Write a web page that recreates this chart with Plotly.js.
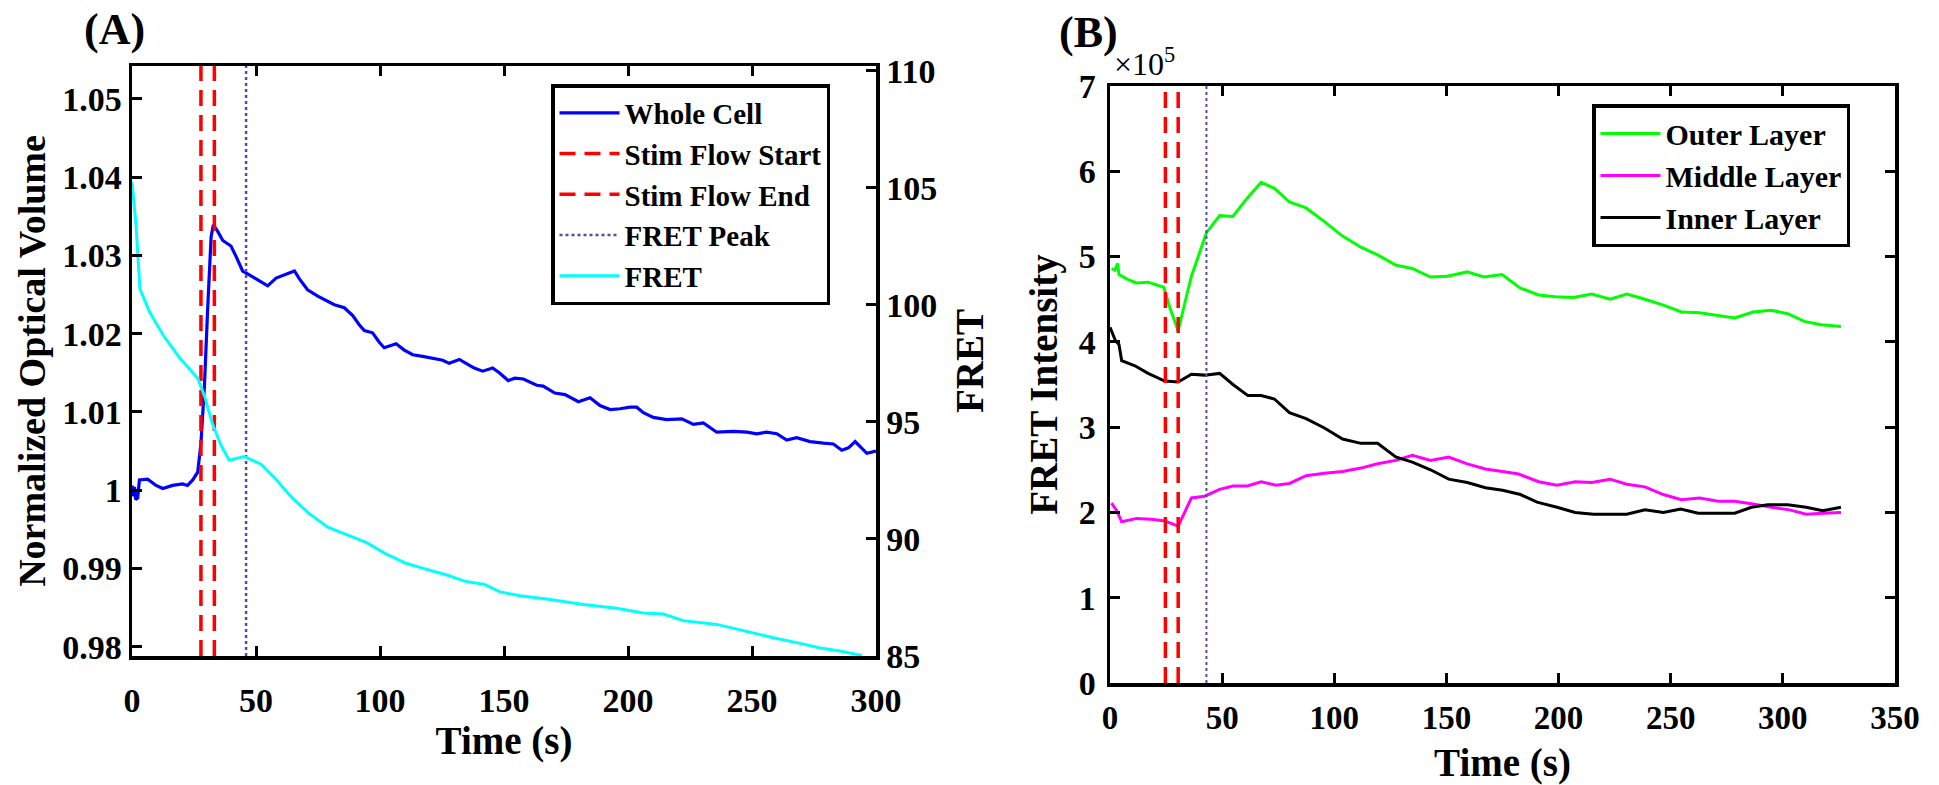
<!DOCTYPE html>
<html>
<head>
<meta charset="utf-8">
<script src="https://cdn.plot.ly/plotly-3.0.1.min.js"></script>
<style>html,body{margin:0;padding:0;background:#fff;}#chart{width:1939px;height:785px;}</style>
</head>
<body>
<div id="chart"></div>
<script>
// ---------- Panel A data ----------
const timeWhole = [0,0.5,1,1.5,2.3,3,6.3,9.7,12.4,16.4,20.4,22.4,24.5,26.5,27.8,29.2,30.5,31.9,32.8,34.5,36.6,39.9,41.9,44.6,47.3,51.3,54.7,58.1,61.4,65.5,67.5,70.8,74.9,78.2,81.6,85.6,89,91.7,93.7,97,99.7,101.7,103.8,106.5,109.8,113.2,117.2,121.2,125.3,127.9,132,134.7,138,141.4,145.4,148.1,151.7,154.4,157.8,163.2,165.8,170.5,174.6,180,184.7,188.7,192.8,196.8,200.8,203.5,206.2,210.2,215.6,221.7,226.4,230.4,235.8,242.5,247.9,251.9,255.9,260,264,268,273.4,278.8,282.8,286.2,288.9,291.6,294.3,296.3,300];
const wholeCell = [1.0006,0.9992,1.0004,0.9988,0.9990,1.0013,1.0014,1.0006,1.0002,1.0006,1.0008,1.0006,1.0013,1.0023,1.0060,1.0133,1.0231,1.0324,1.0339,1.0331,1.0319,1.0312,1.0299,1.0280,1.0275,1.0268,1.0261,1.0271,1.0275,1.0280,1.0270,1.0256,1.0248,1.0243,1.0237,1.0233,1.0223,1.0211,1.0204,1.0201,1.0189,1.0182,1.0184,1.0187,1.0179,1.0173,1.0171,1.0169,1.0166,1.0162,1.0167,1.0162,1.0156,1.0152,1.0156,1.0150,1.0140,1.0143,1.0142,1.0134,1.0133,1.0124,1.0122,1.0113,1.0118,1.0108,1.0103,1.0104,1.0106,1.0106,1.0099,1.0093,1.0090,1.0091,1.0084,1.0086,1.0074,1.0075,1.0074,1.0072,1.0074,1.0072,1.0064,1.0067,1.0062,1.0060,1.0059,1.0051,1.0054,1.0062,1.0054,1.0047,1.0050];
const timeFret = [0,1.6,3.2,7,12.4,19.1,26.5,29.2,32.5,35.9,39.2,45.3,52,58.1,64.8,71.5,78.9,86.3,94.4,102.4,110.5,118.5,126.6,134.7,142.1,148.4,156.5,168.6,182,195.4,206.2,214.2,222.3,235.8,247.9,258.6,269.4,277.5,285.5,294.3];
const fretA = [105.24,103.45,100.68,99.71,98.73,97.75,96.86,96.12,94.9,94.0,93.36,93.52,93.19,92.54,91.73,91.08,90.5,90.18,89.85,89.36,88.96,88.71,88.47,88.18,88.06,87.74,87.57,87.41,87.2,87.04,86.84,86.79,86.51,86.35,86.03,85.78,85.54,85.34,85.21,85.02];
const markTimesA = {stimStart: 27.8, stimEnd: 33.2, fretPeak: 46};
const yTicksA = [0.98,0.99,1.00,1.01,1.02,1.03,1.04,1.05];
const yTickTextA = ['0.98','0.99','1','1.01','1.02','1.03','1.04','1.05'];
const y2TicksA = [85,90,95,100,105,110];
const xTicksA = [0,50,100,150,200,250,300];
const rangeXA = [0,300], rangeYA = [0.9788,1.0542], rangeY2A = [85,110.2];

// ---------- Panel B data (x 10^5) ----------
const timeOuter = [0.7,2.2,3.4,4.0,8.1,11.9,17.0,20.7,24,26.7,30.4,33.3,36.3,40,43,48.9,54.8,60.7,67.4,73.3,80,87.4,95.6,103.7,111.9,119.3,127.4,134.8,142.9,150.4,159.3,166.7,174.8,183,191.1,198.5,206.7,214.8,223,230.4,238.5,246.7,254.8,262.9,271.1,278.5,286.7,294.8,302.2,309.6,317,325.9];
const outerLayer = [4.86,4.84,4.92,4.79,4.73,4.69,4.70,4.67,4.64,4.40,4.13,4.45,4.77,5.05,5.28,5.48,5.47,5.67,5.87,5.80,5.64,5.57,5.41,5.24,5.11,5.02,4.90,4.86,4.76,4.77,4.82,4.76,4.79,4.63,4.55,4.53,4.52,4.56,4.50,4.56,4.50,4.43,4.35,4.34,4.31,4.28,4.35,4.37,4.33,4.24,4.20,4.18];
const timeMiddle = [0.7,3,5.2,11.9,18.5,24.4,30.4,36.3,42.2,48.9,54.8,61.2,67.4,74,80,87.4,95.6,103.7,111.9,119.3,127.4,134.8,142.9,151,159.3,167.4,175,182.2,191.1,199.3,207.4,214.8,223,230.4,238.5,246.7,254.8,262.9,271.1,278.5,286.7,294.8,303,310.4,317.8,325.9];
const middleLayer = [2.11,2.02,1.89,1.93,1.92,1.90,1.84,2.17,2.19,2.27,2.31,2.31,2.36,2.32,2.34,2.43,2.46,2.48,2.52,2.57,2.61,2.67,2.61,2.65,2.57,2.51,2.48,2.45,2.36,2.32,2.36,2.35,2.39,2.33,2.30,2.21,2.15,2.17,2.13,2.13,2.10,2.06,2.03,1.98,1.99,2.00];
const timeInner = [0,2.5,4.0,5.2,11.1,17.0,24.4,30.4,36.3,42.2,48.9,54.8,61.5,67.4,73.3,80,87.4,95.6,103.7,111.9,119.3,127.4,134.8,142.9,151,159.3,167.4,175,183,190.4,199.3,207.4,215.6,230.4,238.5,246.7,254.5,262.2,278.5,286,293.3,302.2,310.4,317.8,325.9];
const innerLayer = [4.17,4.01,3.97,3.78,3.72,3.63,3.54,3.53,3.62,3.61,3.63,3.50,3.37,3.37,3.33,3.17,3.10,2.99,2.86,2.81,2.81,2.65,2.59,2.50,2.39,2.35,2.29,2.26,2.21,2.12,2.06,2.00,1.98,1.98,2.03,2.00,2.04,1.99,1.99,2.06,2.09,2.09,2.06,2.02,2.06];
const markTimesB = {stimStart: 24.7, stimEnd: 30.4, fretPeak: 43};
const yTicksB = [0,1,2,3,4,5,6,7];
const xTicksB = [0,50,100,150,200,250,300,350];
const rangeXB = [0,350], rangeYB = [0,7];

// ---------- styling ----------
const FONT = 'Liberation Serif, Times New Roman, serif';
const bold = (size) => ({family: FONT, size: size, color: '#000', weight: 700});
const W = 1939, H = 785;
const px = (x) => x / W, py = (y) => 1 - y / H;

const RED = '#ff0000', PURPLE = '#5b47a8';
const dashRed = '16px,9px';

const traces = [
  {x: timeWhole, y: wholeCell, xaxis: 'x', yaxis: 'y', mode: 'lines', name: 'Whole Cell',
   line: {color: '#0000ff', width: 3.2}, legend: 'legend'},
  {x: [markTimesA.stimStart, markTimesA.stimStart], y: rangeYA, xaxis: 'x', yaxis: 'y', mode: 'lines',
   name: 'Stim Flow Start', line: {color: RED, width: 3.5, dash: dashRed}, legend: 'legend'},
  {x: [markTimesA.stimEnd, markTimesA.stimEnd], y: rangeYA, xaxis: 'x', yaxis: 'y', mode: 'lines',
   name: 'Stim Flow End', line: {color: RED, width: 3.5, dash: dashRed}, legend: 'legend'},
  {x: [markTimesA.fretPeak, markTimesA.fretPeak], y: rangeYA, xaxis: 'x', yaxis: 'y', mode: 'lines',
   name: 'FRET Peak', line: {color: PURPLE, width: 2.5, dash: 'dot'}, legend: 'legend'},
  {x: timeFret, y: fretA, xaxis: 'x', yaxis: 'y2', mode: 'lines', name: 'FRET',
   line: {color: '#00ffff', width: 3}, legend: 'legend'},

  {x: timeOuter, y: outerLayer, xaxis: 'x2', yaxis: 'y3', mode: 'lines', name: 'Outer Layer',
   line: {color: '#00ff00', width: 3}, legend: 'legend2'},
  {x: timeMiddle, y: middleLayer, xaxis: 'x2', yaxis: 'y3', mode: 'lines', name: 'Middle Layer',
   line: {color: '#ff00ff', width: 3}, legend: 'legend2'},
  {x: timeInner, y: innerLayer, xaxis: 'x2', yaxis: 'y3', mode: 'lines', name: 'Inner Layer',
   line: {color: '#000000', width: 3}, legend: 'legend2'},
  {x: [markTimesB.stimStart, markTimesB.stimStart], y: rangeYB, xaxis: 'x2', yaxis: 'y3', mode: 'lines',
   showlegend: false, line: {color: RED, width: 3.5, dash: dashRed}},
  {x: [markTimesB.stimEnd, markTimesB.stimEnd], y: rangeYB, xaxis: 'x2', yaxis: 'y3', mode: 'lines',
   showlegend: false, line: {color: RED, width: 3.5, dash: dashRed}},
  {x: [markTimesB.fretPeak, markTimesB.fretPeak], y: rangeYB, xaxis: 'x2', yaxis: 'y3', mode: 'lines',
   showlegend: false, line: {color: PURPLE, width: 2, dash: 'dot'}}
];

const axisCommon = {
  showgrid: false, zeroline: false, showline: true, linecolor: '#000', linewidth: 3.5,
  ticks: 'inside', ticklen: 10, tickwidth: 3, tickcolor: '#000', automargin: false
};

const layout = {
  width: W, height: H,
  margin: {l: 0, r: 0, t: 0, b: 0, pad: 0},
  paper_bgcolor: '#fff', plot_bgcolor: '#fff',
  showlegend: true,
  xaxis: Object.assign({}, axisCommon, {
    domain: [px(132), px(876)], anchor: 'y', range: rangeXA, tickvals: xTicksA,
    mirror: 'ticks', tickfont: bold(34), ticklabelstandoff: 12,
    title: {text: 'Time (s)', font: bold(39), standoff: 0}
  }),
  yaxis: Object.assign({}, axisCommon, {
    domain: [py(656), py(66)], anchor: 'x', range: rangeYA, tickvals: yTicksA, ticktext: yTickTextA,
    tickfont: bold(34),
    title: {text: 'Normalized Optical Volume', font: bold(38), standoff: 6}
  }),
  yaxis2: Object.assign({}, axisCommon, {
    overlaying: 'y', side: 'right', anchor: 'x', range: rangeY2A, tickvals: y2TicksA,
    tickfont: bold(34),
    title: {text: 'FRET', font: bold(39), standoff: 20}
  }),
  xaxis2: Object.assign({}, axisCommon, {
    domain: [px(1110), px(1895)], anchor: 'y3', range: rangeXB, tickvals: xTicksB,
    mirror: 'ticks', tickfont: bold(33), ticklabelstandoff: 3,
    title: {text: 'Time (s)', font: bold(39), standoff: 16}
  }),
  yaxis3: Object.assign({}, axisCommon, {
    domain: [py(683), py(86)], anchor: 'x2', range: rangeYB, tickvals: yTicksB,
    mirror: 'ticks', tickfont: bold(34), ticklabelstandoff: 4,
    title: {text: 'FRET Intensity', font: bold(39), standoff: 10}
  }),
  legend: {
    x: px(551), y: py(84), xanchor: 'left', yanchor: 'top',
    bgcolor: '#fff', bordercolor: '#000', borderwidth: 3.5,
    font: bold(29), tracegroupgap: 0, itemwidth: 60
  },
  legend2: {
    x: px(1592), y: py(104), xanchor: 'left', yanchor: 'top',
    bgcolor: '#fff', bordercolor: '#000', borderwidth: 3.5,
    font: bold(30), tracegroupgap: 0, itemwidth: 60
  },
  annotations: [
    {text: '(A)', xref: 'paper', yref: 'paper', x: px(114), y: py(30), xanchor: 'center', yanchor: 'middle',
     showarrow: false, font: bold(44)},
    {text: '(B)', xref: 'paper', yref: 'paper', x: px(1088), y: py(33), xanchor: 'center', yanchor: 'middle',
     showarrow: false, font: bold(44)},
    {text: '×10<sup>5</sup>', xref: 'paper', yref: 'paper', x: px(1112), y: py(84), xanchor: 'left', yanchor: 'bottom',
     showarrow: false, font: {family: FONT, size: 32, color: '#000'}}
  ]
};

Plotly.newPlot('chart', traces, layout, {displayModeBar: false, staticPlot: true});
</script>
</body>
</html>
